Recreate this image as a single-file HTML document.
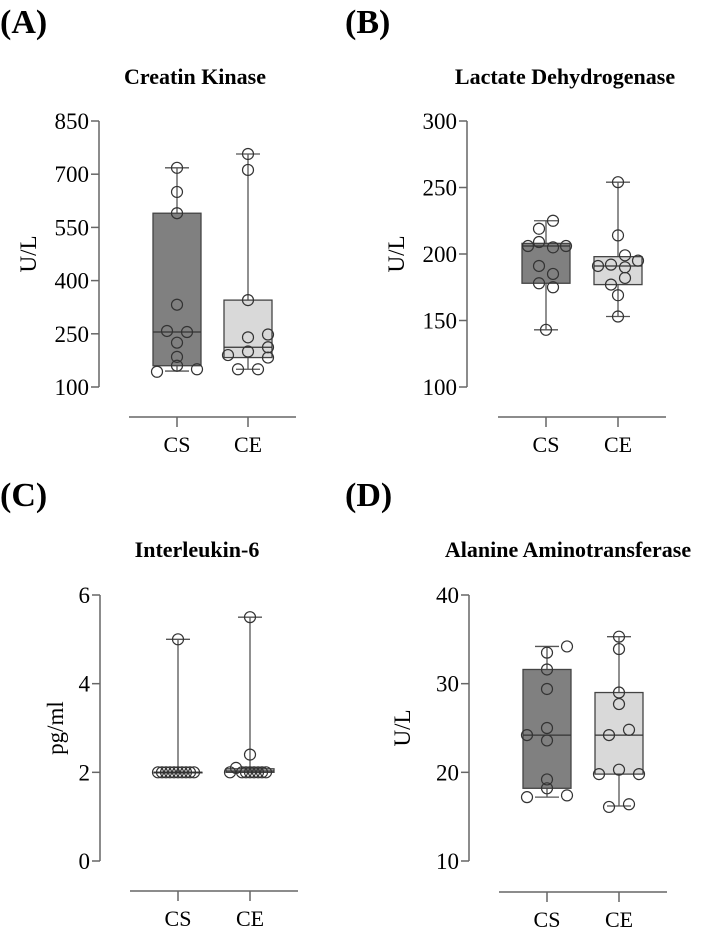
<!DOCTYPE html>
<html><head><meta charset="utf-8"><style>
body{margin:0;background:#fff}
svg{display:block;font-family:"Liberation Serif",serif}
</style></head><body>
<svg id="chart" width="726" height="929" viewBox="0 0 726 929" xmlns="http://www.w3.org/2000/svg"></svg>
<script>
// ---- Data ----
const groups = ["CS","CE"];
// Panel A: Creatin Kinase
const ckTicks = [100,250,400,550,700,850];
const ckBoxCS = [145,160,255,590,718]; // min,q1,median,q3,max
const ckBoxCE = [150,183,212,345,757];
const ckPtsCS = [718,650,590,332,258,255,225,185,160,143,150];
const ckPtsCE = [757,712,345,240,248,212,200,190,183,150,150];
const ckJitCS = [0,0,0,0,-10,10,0,0,0,-20,20];
const ckJitCE = [0,0,0,0,20,20,0,-20,20,-10,10];
// Panel B: Lactate Dehydrogenase
const ldTicks = [100,150,200,250,300];
const ldBoxCS = [143,178,206,208,225];
const ldBoxCE = [153,177,191,198,254];
const ldPtsCS = [225,219,209,206,205,206,191,185,178,175,143];
const ldPtsCE = [254,214,199,195,192,191,190,182,177,169,153];
const ldJitCS = [7,-7,-7,-18,7,20,-7,7,-7,7,0];
const ldJitCE = [0,0,7,20,-7,-20,7,7,-7,0,0];
// Panel C: Interleukin-6
const ilTicks = [0,2,4,6];
const ilBoxCS = [2,2,2,2,5];
const ilBoxCE = [2,2,2.03,2.08,5.5];
const ilPtsCS = [5,2,2,2,2,2,2,2,2,2,2];
const ilPtsCE = [5.5,2.4,2.1,2,2,2,2,2,2,2,2];
const ilJitCS = [0,-20,-16,-12,-8,-4,0,4,8,12,16];
const ilJitCE = [0,0,-14,-20,-8,-4,0,4,8,12,16];
// Panel D: Alanine Aminotransferase
const alTicks = [10,20,30,40];
const alBoxCS = [17.2,18.2,24.2,31.6,34.2];
const alBoxCE = [16.2,19.8,24.2,29,35.3];
const alPtsCS = [34.2,33.5,31.6,29.4,25,24.2,23.6,19.2,18.2,17.2,17.4];
const alPtsCE = [35.3,33.9,29,27.7,24.8,24.2,20.3,19.8,19.8,16.4,16.1];
const alJitCS = [20,0,0,0,0,-20,0,0,0,-20,20];
const alJitCE = [0,0,0,0,10,-10,0,-20,20,10,-10];

const NS="http://www.w3.org/2000/svg";
const svg=document.getElementById('chart');
function mk(tag,attrs,parent){const e=document.createElementNS(NS,tag);for(const k in attrs)e.setAttribute(k,attrs[k]);(parent||svg).appendChild(e);return e;}

const panels=[
 {key:"ck",letter:"(A)",title:"Creatin Kinase",yl:"U/L",ax:99,top:121,bot:387,base:417,cx:[177,248],ticks:ckTicks,boxes:[ckBoxCS,ckBoxCE],pts:[ckPtsCS,ckPtsCE],jit:[ckJitCS,ckJitCE],lx:0,ly:33,tx:195,ty:84,ylx:36},
 {key:"ld",letter:"(B)",title:"Lactate Dehydrogenase",yl:"U/L",ax:467,top:121,bot:387,base:417,cx:[546,618],ticks:ldTicks,boxes:[ldBoxCS,ldBoxCE],pts:[ldPtsCS,ldPtsCE],jit:[ldJitCS,ldJitCE],lx:345,ly:33,tx:565,ty:84,ylx:404},
 {key:"il",letter:"(C)",title:"Interleukin-6",yl:"pg/ml",ax:100,top:595,bot:861,base:891,cx:[178,250],ticks:ilTicks,boxes:[ilBoxCS,ilBoxCE],pts:[ilPtsCS,ilPtsCE],jit:[ilJitCS,ilJitCE],lx:0,ly:506,tx:197,ty:557,ylx:63},
 {key:"al",letter:"(D)",title:"Alanine Aminotransferase",yl:"U/L",ax:469,top:595,bot:861,base:892,cx:[547,619],ticks:alTicks,boxes:[alBoxCS,alBoxCE],pts:[alPtsCS,alPtsCE],jit:[alJitCS,alJitCE],lx:345,ly:506,tx:568,ty:557,ylx:410}
];
const fills=["#808080","#d9d9d9"];
panels.forEach(p=>{
 const g=mk('g',{});
 
 
 const lo=p.ticks[0],hi=p.ticks[p.ticks.length-1];
 const y=v=>p.bot-(v-lo)/(hi-lo)*(p.bot-p.top);
 const lt=mk('text',{x:p.lx,y:p.ly,'font-size':34,'font-weight':'bold'},g);lt.textContent=p.letter;
 
 
 const tt=mk('text',{x:p.tx,y:p.ty,'font-size':22,'font-weight':'bold','text-anchor':'middle'},g);tt.textContent=p.title;
 
 
 const yt=mk('text',{x:p.ylx,y:(p.top+p.bot)/2,'font-size':23,'text-anchor':'middle',transform:`rotate(-90 ${p.ylx} ${(p.top+p.bot)/2})`},g);yt.textContent=p.yl;
 
 
 const ya=mk('line',{x1:p.ax,x2:p.ax,y1:p.top,y2:p.bot,stroke:'#666','stroke-width':1.5},g);
 
 
 p.ticks.forEach(t=>{
  mk('line',{x1:p.ax-8,x2:p.ax,y1:y(t),y2:y(t),stroke:'#666','stroke-width':1.5},g);
  const tl=mk('text',{x:p.ax-10,y:y(t)+8,'font-size':23,'text-anchor':'end'},g);tl.textContent=t;
  
  
 });
 const xa=mk('line',{x1:p.cx[0]-48,x2:p.cx[1]+48,y1:p.base,y2:p.base,stroke:'#666','stroke-width':1.5},g);
 
 
 groups.forEach((gn,i)=>{
  const c=p.cx[i];
  mk('line',{x1:c,x2:c,y1:p.base,y2:p.base+10,stroke:'#666','stroke-width':1.5},g);
  const xl=mk('text',{x:c,y:p.base+35,'font-size':22,'text-anchor':'middle'},g);xl.textContent=gn;
  
  
  const b=p.boxes[i];
  mk('line',{x1:c,x2:c,y1:y(b[0]),y2:y(b[4]),stroke:'#555','stroke-width':1.3},g);
  mk('line',{x1:c-12,x2:c+12,y1:y(b[0]),y2:y(b[0]),stroke:'#555','stroke-width':1.3},g);
  mk('line',{x1:c-12,x2:c+12,y1:y(b[4]),y2:y(b[4]),stroke:'#555','stroke-width':1.3},g);
  const r=mk('rect',{x:c-24,y:y(b[3]),width:48,height:Math.max(0.5,y(b[1])-y(b[3])),fill:fills[i],stroke:'#444','stroke-width':1.3},g);
  
  
  mk('line',{x1:c-24,x2:c+24,y1:y(b[2]),y2:y(b[2]),stroke:'#333','stroke-width':1.3},g);
  p.pts[i].forEach((v,k)=>{
   const pt=mk('circle',{cx:c+p.jit[i][k],cy:y(v),r:5.5,fill:'none',stroke:'#333','stroke-width':1.2},g);
   
   
  });
 });
});
</script>
</body></html>
